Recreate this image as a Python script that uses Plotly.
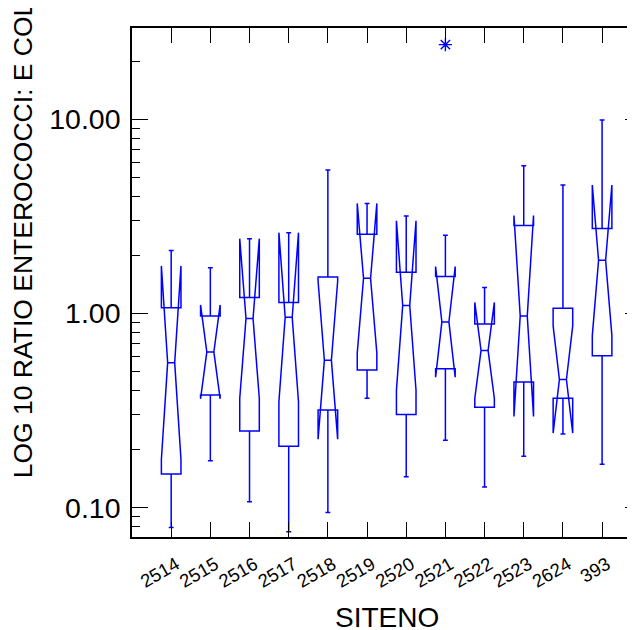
import numpy as np
import plotly.graph_objects as go

# ---- data (ratio units) ----
sites = ["2514", "2515", "2516", "2517", "2518", "2519",
         "2520", "2521", "2522", "2523", "2624", "393"]
lower_whisker = [0.079, 0.174, 0.107, 0.075, 0.0944, 0.366,
                 0.144, 0.222, 0.1275, 0.184, 0.239, 0.167]
q1 = [0.149, 0.380, 0.248, 0.207, 0.318, 0.511,
      0.302, 0.519, 0.329, 0.444, 0.366, 0.605]
median = [0.558, 0.634, 0.942, 0.957, 0.575, 1.52,
          1.10, 0.905, 0.645, 0.971, 0.457, 1.88]
q3 = [1.07, 0.972, 1.21, 1.14, 1.54, 2.56,
      1.63, 1.55, 0.884, 2.84, 1.065, 2.74]
upper_whisker = [2.11, 1.72, 1.84, 1.53, 5.49, 3.07,
                 3.18, 2.53, 1.36, 5.78, 4.59, 9.93]
notch_low = [0.178, 0.361, 0.365, 0.351, 0.225, 0.625,
             0.403, 0.468, 0.365, 0.295, 0.242, 0.773]
notch_high = [1.77, 1.10, 2.43, 2.61, 1.47, 3.69,
              3.01, 1.74, 1.14, 3.20, 0.864, 4.62]
outlier_site = ["2521"]
outlier_value = [24.3]

tick_values = [0.1, 1.0, 10.0]
tick_labels = ["0.10", "1.00", "10.00"]
minor_values = [0.08, 0.09, 0.2, 0.3, 0.4, 0.5, 0.6, 0.7, 0.8, 0.9,
                2, 3, 4, 5, 6, 7, 8, 9, 20]
y_limits = [0.0705, 29.6]

lg = np.log10
BLUE = "#0000ff"
FONT = "Liberation Sans, Arial, sans-serif"

notchspan = (lg(notch_high) - lg(notch_low)) / 2.0

fig = go.Figure()
fig.add_trace(go.Box(
    x=sites,
    q1=lg(q1), median=lg(median), q3=lg(q3),
    lowerfence=lg(lower_whisker), upperfence=lg(upper_whisker),
    notched=True, notchspan=notchspan, notchwidth=0.32,
    width=0.5, whiskerwidth=0.25, boxpoints=False,
    line=dict(color=BLUE, width=1.5), fillcolor="rgba(0,0,0,0)",
    hoverinfo="skip", showlegend=False,
))
fig.add_trace(go.Scatter(
    x=outlier_site, y=lg(outlier_value), mode="markers", yaxis="y2",
    marker=dict(symbol="asterisk-open", size=11, color=BLUE,
                line=dict(color=BLUE, width=1.4)),
    hoverinfo="skip", showlegend=False,
))

yr = [float(lg(y_limits[0])), float(lg(y_limits[1]))]
common_y = dict(range=yr, showgrid=False, zeroline=False, tickmode="array",
                tickvals=list(lg(tick_values)), fixedrange=True)

fig.update_layout(
    width=627, height=622,
    margin=dict(l=124, r=0, t=20, b=93, autoexpand=False),
    paper_bgcolor="white", plot_bgcolor="white",
    font=dict(family=FONT, color="black"),
    xaxis=dict(
        type="category", categoryorder="array", categoryarray=sites,
        range=[-1, 11.84], showgrid=False, zeroline=False,
        showline=True, linecolor="black", linewidth=1.5, mirror="ticks",
        ticks="inside", ticklen=15, tickwidth=1.3, tickcolor="black",
        tickangle=-30, tickfont=dict(size=18.5, family=FONT),
        ticklabelstandoff=8, ticklabelshift=5,
    ),
    yaxis=dict(
        **common_y, ticktext=tick_labels,
        showline=True, linecolor="black", linewidth=1.5, mirror=False,
        ticks="inside", ticklen=16, tickwidth=1.3, tickcolor="black",
        tickfont=dict(size=28.5, family=FONT), ticklabelstandoff=4,
        minor=dict(tickmode="array", tickvals=list(lg(minor_values)),
                   ticks="inside", ticklen=8, tickwidth=1.2, tickcolor="black"),
    ),
    yaxis2=dict(
        **common_y, overlaying="y", side="right", anchor="x",
        showline=False, showticklabels=False,
        ticks="inside", ticklen=10, tickwidth=1.3, tickcolor="black",
        minor=dict(tickmode="array", tickvals=list(lg(minor_values)),
                   ticks="inside", ticklen=2, tickwidth=1.2, tickcolor="black"),
    ),
    annotations=[
        dict(text="LOG 10 RATIO ENTEROCOCCI: E COLI", textangle=-90,
             xref="paper", yref="paper", x=-0.2161, y=0.112,
             xanchor="center", yanchor="bottom", showarrow=False,
             font=dict(size=26.5, family=FONT, color="black")),
        dict(text="SITENO", xref="paper", yref="paper", x=0.5064, y=-0.1585,
             xanchor="center", yanchor="middle", showarrow=False,
             font=dict(size=28, family=FONT, color="black")),
    ],
)

fig.write_html("out.html")
